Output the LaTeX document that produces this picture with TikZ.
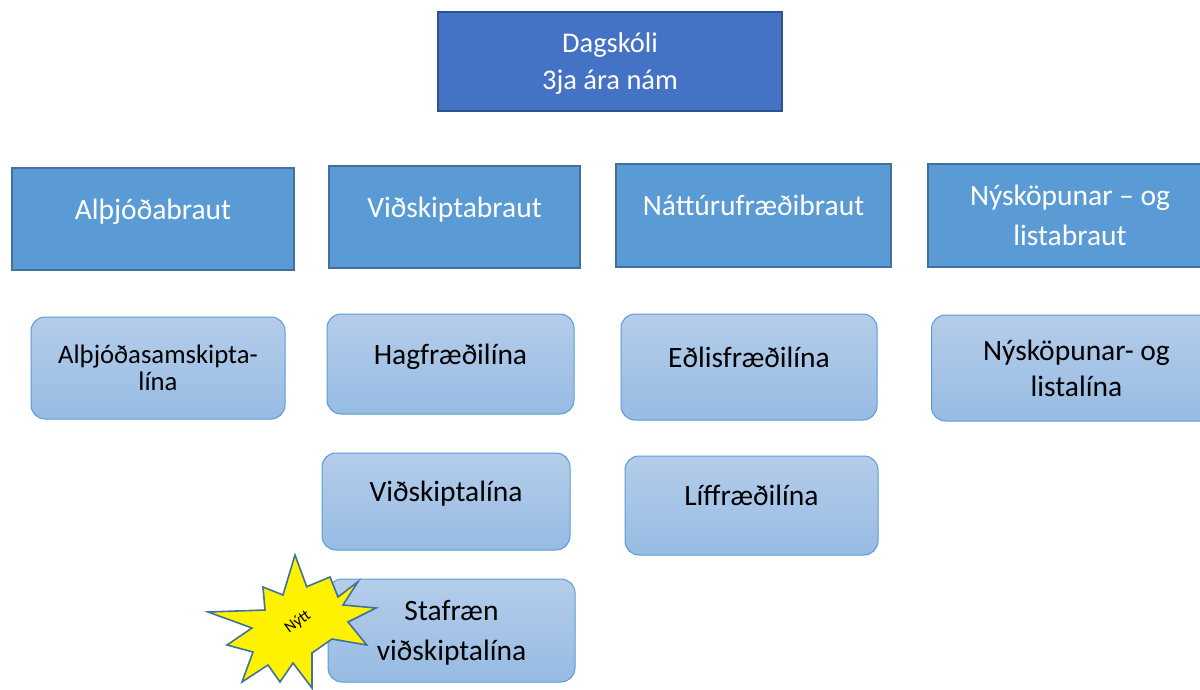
\documentclass[tikz,border=0pt]{standalone}
\usepackage{fontspec}
\setmainfont{Carlito}
\definecolor{topfill}{HTML}{4472C4}
\definecolor{topdraw}{HTML}{2F528F}
\definecolor{brfill}{HTML}{5B9BD5}
\definecolor{brdraw}{HTML}{41719C}
\definecolor{lntop}{HTML}{B4CDEA}
\definecolor{lnbot}{HTML}{97BBE3}
\definecolor{lndraw}{HTML}{5B9BD5}
\definecolor{stardraw}{HTML}{41719C}
\begin{document}
\begin{tikzpicture}[x=1pt,y=-1pt,
  topbox/.style={draw=topdraw,fill=topfill,line width=2pt,text=white,align=center,
    font=\fontsize{28.5}{37}\selectfont},
  brbox/.style={draw=brdraw,fill=brfill,line width=2pt,text=white,align=center,
    font=\fontsize{29.5}{40}\selectfont},
  lnbox/.style={draw=lndraw,line width=1pt,rounded corners=14pt,top color=lntop,bottom color=lnbot,
    text=black,align=center,font=\fontsize{29.5}{40}\selectfont},
  lift/.style={text depth=20pt},
  sink/.style={text depth=0pt},
  startxt/.style={font=\fontsize{16}{18}\selectfont,rotate=36,inner sep=0pt}
]
\useasboundingbox (0,0) rectangle (1200,690);
% top
\node[topbox,sink,minimum width=344pt,minimum height=99pt] (dag) at (610,61.5) {Dagskóli\\3ja ára nám};
% brautir
\node[brbox,lift,minimum width=282pt,minimum height=102pt] (alb) at (153,219) {Alþjóðabraut};
\node[brbox,lift,minimum width=251pt,minimum height=102pt] (vib) at (454.5,217) {Viðskiptabraut};
\node[brbox,lift,minimum width=275pt,minimum height=103pt] (nab) at (753.5,215.5) {Náttúrufræðibraut};
\node[brbox,minimum width=284pt,minimum height=103pt,anchor=west] (nyb) at (927,215.5) {\hspace*{4pt}Nýsköpunar – og\hspace*{4pt}\\listabraut};
% linur
\node[lnbox,minimum width=254pt,minimum height=102pt,font=\fontsize{26.7}{27}\selectfont] (als) at (158,368) {Alþjóðasamskipta-\\lína};
\node[lnbox,lift,minimum width=247pt,minimum height=100pt] (hag) at (450.5,364) {Hagfræðilína};
\node[lnbox,lift,minimum width=256pt,minimum height=106pt] (edl) at (749,367) {Eðlisfræðilína};
\node[lnbox,minimum width=290pt,minimum height=106pt,anchor=west,font=\fontsize{29.5}{36}\selectfont] (nyl) at (931,368) {Nýsköpunar- og\\listalína\hspace*{0pt}};
\node[lnbox,lift,minimum width=248pt,minimum height=97pt] (vil) at (446,501.5) {Viðskiptalína};
\node[lnbox,lift,minimum width=253pt,minimum height=99pt] (lif) at (751.5,505.5) {Líffræðilína};
\node[lnbox,sink,minimum width=247pt,minimum height=103pt] (sta) at (451.5,630.5) {Stafræn\\viðskiptalína};
% star
\draw[draw=stardraw,fill=yellow,line width=1.6pt,line join=miter]
  (295,555) -- (306.7,586.7) -- (330,577) -- (338,597) -- (358,581.7) -- (343,605)
  -- (376,608) -- (348,622) -- (366.7,645) -- (332,639) -- (312,653) -- (312,688)
  -- (293,663) -- (280,682) -- (268,665) -- (242,682) -- (253,652) -- (227,645)
  -- (252,628) -- (208,612) -- (265,610) -- (263,587) -- (283,595) -- cycle;
\node[startxt] (nytt) at (298,622) {Nýtt};
\end{tikzpicture}
\end{document}
